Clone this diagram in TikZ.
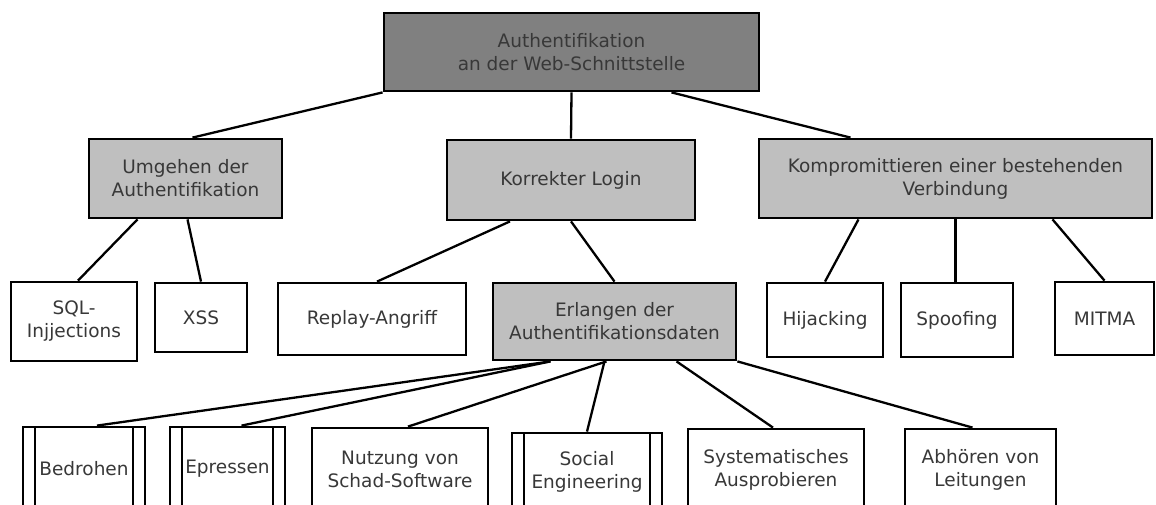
\documentclass[tikz,border=0pt]{standalone}
\usepackage{fontspec}
\setsansfont{DejaVu Sans}
\definecolor{darkfill}{gray}{0.5}
\definecolor{lightfill}{gray}{0.75}
\definecolor{labeltext}{gray}{0.22}
\tikzstyle{box} = [draw, rectangle, line width=2.8pt, align=center, text=labeltext, inner sep=2pt]
\tikzstyle{root} = [box, fill=darkfill]
\tikzstyle{goal} = [box, fill=lightfill]
\tikzstyle{leaf} = [box, fill=white]
\tikzstyle{subproc} = [leaf, path picture={
	\draw[line width=2.8pt] ([xshift=12pt]path picture bounding box.north west) -- ([xshift=12pt]path picture bounding box.south west);
	\draw[line width=2.8pt] ([xshift=-12pt]path picture bounding box.north east) -- ([xshift=-12pt]path picture bounding box.south east);}]
\tikzstyle{link} = [line width=2.3pt]

\begin{document}
\begin{tikzpicture}[x=1pt,y=-1pt,font=\sffamily\fontsize{18.5}{23}\selectfont]
\useasboundingbox (0,0) rectangle (1156,505);

% Diagram nodes
\node[root, minimum width=375, minimum height=78] (auth) at (571.5,52) {Authentifikation\\an der Web-Schnittstelle};

\node[goal, minimum width=193, minimum height=79] (umgehen) at (185.5,178.5) {Umgehen der\\Authentifikation};
\node[goal, minimum width=248, minimum height=80] (login) at (571,180) {Korrekter Login};
\node[goal, minimum width=393, minimum height=79] (kompr) at (955.5,178.5) {Kompromittieren einer bestehenden\\Verbindung};

\node[leaf, minimum width=126, minimum height=79] (sql) at (74,321.5) {SQL-\\Injjections};
\node[leaf, minimum width=92, minimum height=69] (xss) at (201,317.5) {XSS};
\node[leaf, minimum width=188, minimum height=72] (replay) at (372,319) {Replay-Angriff};
\node[goal, minimum width=243, minimum height=77] (erlangen) at (614.5,321.5) {Erlangen der\\Authentifikationsdaten};
\node[leaf, minimum width=116, minimum height=74] (hijack) at (825,320) {Hijacking};
\node[leaf, minimum width=112, minimum height=74] (spoof) at (957,320) {Spoofing};
\node[leaf, minimum width=99, minimum height=73] (mitma) at (1104.5,318.5) {MITMA};

\node[subproc, minimum width=122, minimum height=83] (bedrohen) at (84,468.5) {Bedrohen};
\node[subproc, minimum width=115, minimum height=83] (epressen) at (227.5,468.5) {Epressen};
\node[leaf, minimum width=176, minimum height=82] (schad) at (400,469) {Nutzung von\\Schad-Software};
\node[subproc, minimum width=150, minimum height=77] (social) at (587,471.5) {Social\\Engineering};
\node[leaf, minimum width=176, minimum height=81] (probe) at (776,469.5) {Systematisches\\Ausprobieren};
\node[leaf, minimum width=151, minimum height=81] (abhoeren) at (980.5,469.5) {Abhören von\\Leitungen};

% Draw connectors
\draw[link](auth.south west)--([xshift=7]umgehen.north);
\draw[link](auth.south)--(login.north);
\draw[link]([xshift=100]auth.south)--([xshift=-105]kompr.north);

\draw[link]([xshift=-48]umgehen.south)--([xshift=4]sql.north);
\draw[link]([xshift=2]umgehen.south)--(xss.north);

\draw[link]([xshift=-61]login.south)--([xshift=5]replay.north);
\draw[link](login.south)--(erlangen.north);

\draw[link]([xshift=-97]kompr.south)--(hijack.north);
\draw[link](kompr.south)--(kompr.south |- spoof.north);
\draw[link]([xshift=97]kompr.south)--(mitma.north);

\draw[link]([xshift=-64]erlangen.south)--([xshift=13]bedrohen.north);
\draw[link]([xshift=-64]erlangen.south)--([xshift=14]epressen.north);
\draw[link]([xshift=-8]erlangen.south)--([xshift=8]schad.north);
\draw[link]([xshift=-10]erlangen.south)--(social.north);
\draw[link]([xshift=62]erlangen.south)--([xshift=-3]probe.north);
\draw[link](erlangen.south east)--([xshift=-8]abhoeren.north);

\end{tikzpicture}
\end{document}
